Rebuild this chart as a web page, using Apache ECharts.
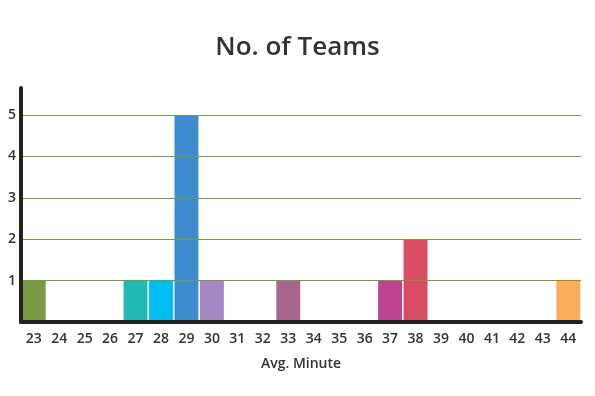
<!DOCTYPE html>
<html><head><meta charset="utf-8">
<script src="https://cdn.jsdelivr.net/npm/echarts@6/dist/echarts.min.js"></script>
<style>html,body{margin:0;padding:0;background:#fff}#c{width:595px;height:396px}</style>
</head><body><div id="c"></div>
<script>
const categories = ['23','24','25','26','27','28','29','30','31','32','33','34','35','36','37','38','39','40','41','42','43','44'];
const teamCounts = [1,0,0,0,1,1,5,1,0,0,1,0,0,0,1,2,0,0,0,0,0,1];
const barColors = ['#7a9a48','#7a9a48','#7a9a48','#7a9a48','#1fbab4','#00bff0','#3f8bd0','#a488c3','#a6668f','#a6668f','#a6668f','#a6668f','#a6668f','#a6668f','#bf448f','#d94a63','#fbad5e','#fbad5e','#fbad5e','#fbad5e','#fbad5e','#fbad5e'];
const yTicks = [1,2,3,4,5];

const chart = echarts.init(document.getElementById('c'), null, {renderer:'canvas'});
const font = '"Open Sans", "Noto Sans", sans-serif';
chart.setOption({
  animation:false,
  title:{text:'No. of Teams', left:'center', top:30,
    textStyle:{fontFamily:font, fontSize:26, fontWeight:600, color:'#333'}},
  grid:{left:21, right:14, top:88, bottom:74, containLabel:false},
  xAxis:{type:'category', data:categories, z:6,
    name:'Avg. Minute', nameLocation:'middle', nameGap:35,
    nameTextStyle:{fontFamily:font, fontSize:14, fontWeight:600, color:'#333'},
    axisLine:{lineStyle:{color:'#222', width:4}},
    axisTick:{show:false},
    axisLabel:{fontFamily:font, fontSize:14, fontWeight:600, color:'#333', margin:10, interval:0}},
  yAxis:{type:'value', min:0, max:5.65, interval:1, z:5,
    axisLine:{show:true, lineStyle:{color:'#222', width:4}},
    axisTick:{show:false},
    splitLine:{show:true, showMaxLine:false, showMinLine:false, lineStyle:{color:'#7a9a3a', width:1}},
    axisLabel:{fontFamily:font, fontSize:14, fontWeight:600, color:'#333', margin:5,
      formatter:v => yTicks.includes(v) ? String(v) : ''}},
  series:[{type:'bar', barCategoryGap:'6%',
    data:teamCounts.map((v,i)=>({value:v, itemStyle:{color:barColors[i]}}))}]
});
</script></body></html>
